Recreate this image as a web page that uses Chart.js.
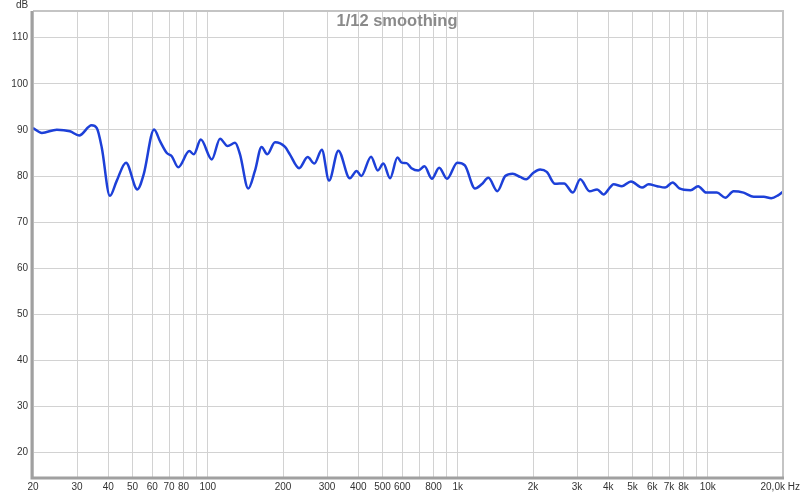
<!DOCTYPE html>
<html>
<head>
<meta charset="utf-8">
<script src="https://cdn.jsdelivr.net/npm/chart.js@4"></script>
<style>
  html, body { margin: 0; padding: 0; background: #fff; }
  canvas { display: block; }
</style>
</head>
<body>
<canvas id="grafico" width="800" height="494"></canvas>
<script>
// Resposta em frequência (leitura do gráfico)
const freqs = [20, 21.7, 24.9, 28.1, 30.6, 34.3, 36, 37.7, 40.6, 43.2, 47.1, 52.3, 55.4, 61, 64.5, 68.6, 71.8, 76.2, 84.4, 88, 93.8, 103.8, 112, 120,
    128.6, 134.6, 145.2, 154.4, 164.2, 173, 185.8, 203.8, 213, 232, 251, 267, 286, 305.6, 333, 370, 394, 411, 450, 479, 504, 536, 574, 597, 624, 653, 696, 736,
    788, 843, 906, 996, 1068, 1172, 1246, 1326, 1440, 1549, 1660, 1776, 1878, 2006, 2134, 2270, 2450, 2663, 2888, 3090, 3368, 3610, 3830, 4076,
    4200, 4540, 4930, 5460, 5800, 6270, 6750, 7240, 7700, 8540, 9150, 9860, 10880, 11760, 12680, 13910, 15270, 16760, 17940, 19100, 20000];
const spl = [90.4, 89.35, 90.05, 89.7, 88.8, 91.0, 90.4, 86.1, 75.7, 78.9, 82.9, 77.1, 80.3, 90.1, 87.5, 85.0, 84.3, 81.9, 85.4, 84.7, 87.9, 83.6, 88.1, 86.5,
    87.2, 84.7, 77.3, 81.1, 86.3, 84.7, 87.3, 86.3, 84.7, 81.7, 84.1, 82.7, 85.7, 79.0, 85.5, 79.5, 81.1, 80.0, 84.2, 81.2, 82.7, 79.5, 84.0, 82.9, 82.8, 81.7, 81.2, 82.1,
    79.4, 81.8, 79.4, 82.9, 82.3, 77.3, 78.2, 79.6, 76.7, 80.0, 80.5, 79.8, 79.3, 80.7, 81.4, 80.9, 78.3, 78.4, 76.4, 79.3, 76.7, 77.1, 76.0, 77.6,
    78.2, 77.8, 78.8, 77.5, 78.2, 77.8, 77.5, 78.6, 77.3, 76.9, 77.8, 76.4, 76.4, 75.3, 76.7, 76.4, 75.5, 75.5, 75.2, 75.8, 76.6];

// Eixos
const gradeX = [20, 30, 40, 50, 60, 70, 80, 90, 100, 200, 300, 400, 500, 600, 700, 800, 900, 1000,
    2000, 3000, 4000, 5000, 6000, 7000, 8000, 9000, 10000, 20000];
// o último rótulo leva espaços no fim para não ser cortado na borda direita
const rotulosX = ['20', '30', '40', '50', '60', '70', '80', '', '100', '200', '300', '400', '500', '600', '', '800', '', '1k',
    '2k', '3k', '4k', '5k', '6k', '7k', '8k', '', '10k', '20,0k Hz\u00a0\u00a0'];
const gradeY = [20, 30, 40, 50, 60, 70, 80, 90, 100, 110];

const fonte = { family: 'Liberation Sans', size: 10 };

// Textos extras e moldura
const extras = {
    id: 'extras',
    beforeDatasetsDraw(chart) {
        const { ctx } = chart;
        ctx.save();
        ctx.fillStyle = '#8a8a8a';
        ctx.font = 'bold 16.5px "Liberation Sans"';
        ctx.textAlign = 'center';
        ctx.textBaseline = 'middle';
        ctx.fillText('1/12 smoothing', 397, 21);
        ctx.restore();
    },
    afterDraw(chart) {
        const { ctx, chartArea: a } = chart;
        ctx.save();
        ctx.strokeStyle = '#c4c4c4';
        ctx.lineWidth = 2;
        ctx.beginPath();
        ctx.moveTo(a.left, a.top);
        ctx.lineTo(a.right, a.top);
        ctx.lineTo(a.right, a.bottom);
        ctx.stroke();
        ctx.strokeStyle = '#a0a0a0';
        ctx.lineWidth = 3;
        ctx.beginPath();
        ctx.moveTo(a.left - 1, a.top);
        ctx.lineTo(a.left - 1, a.bottom + 1);
        ctx.lineTo(a.right + 1, a.bottom + 1);
        ctx.stroke();
        ctx.fillStyle = '#333';
        ctx.font = '10px "Liberation Sans"';
        ctx.textAlign = 'center';
        ctx.textBaseline = 'middle';
        ctx.fillText('dB', 22, 5);
        ctx.restore();
    }
};

new Chart(document.getElementById('grafico'), {
    type: 'line',
    data: {
        datasets: [{
            data: freqs.map((f, i) => ({ x: f, y: spl[i] })),
            borderColor: '#1d40d8',
            borderWidth: 2.5,
            pointRadius: 0,
            cubicInterpolationMode: 'monotone',
            fill: false
        }]
    },
    options: {
        responsive: false,
        animation: false,
        layout: { padding: { left: 0, right: 17, top: 11, bottom: 0 } },
        plugins: { legend: { display: false }, tooltip: { enabled: false } },
        scales: {
            x: {
                type: 'logarithmic',
                min: 20,
                max: 20000,
                afterBuildTicks: s => { s.ticks = gradeX.map(v => ({ value: v })); },
                afterFit: s => { s.height = 17; s.paddingLeft = 0; s.paddingRight = 0; },
                grid: { color: '#d2d2d2', lineWidth: 1, drawTicks: false },
                border: { display: false },
                ticks: {
                    autoSkip: false,
                    maxRotation: 0,
                    padding: 4,
                    color: '#333',
                    font: fonte,
                    callback: (v, i) => rotulosX[i]
                }
            },
            y: {
                min: 14.7,
                max: 115.8,
                afterBuildTicks: s => { s.ticks = gradeY.map(v => ({ value: v })); },
                afterFit: s => { s.width = 33; s.paddingTop = 0; s.paddingBottom = 0; },
                grid: { color: '#d2d2d2', lineWidth: 1, drawTicks: false },
                border: { display: false },
                ticks: { padding: 5, color: '#333', font: fonte, callback: v => String(v) }
            }
        }
    },
    plugins: [extras]
});
</script>
</body>
</html>
